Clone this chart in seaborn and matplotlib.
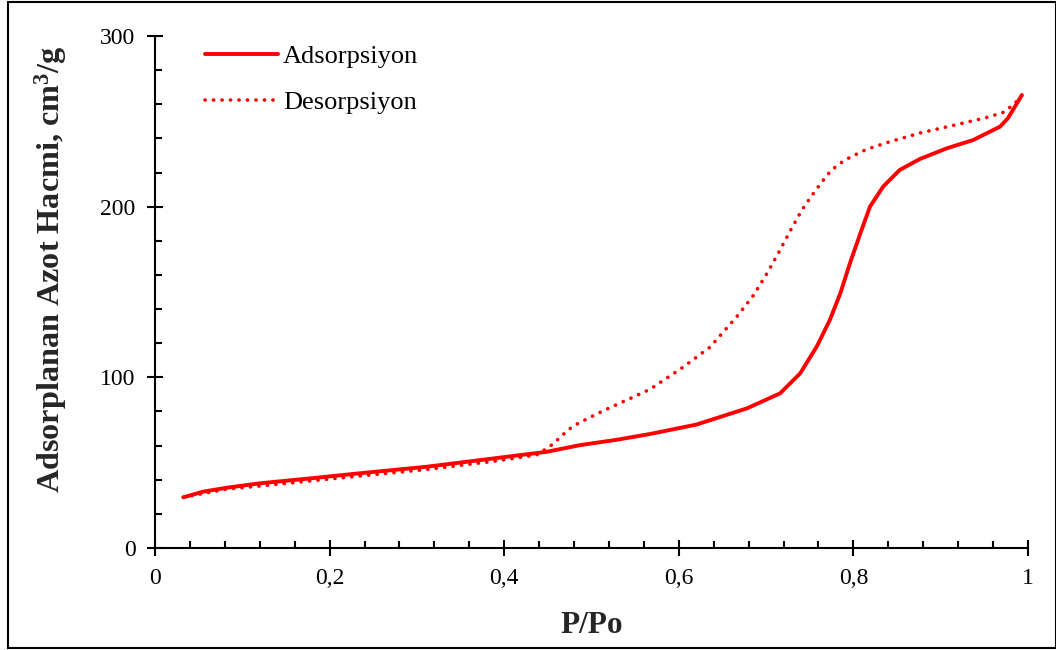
import matplotlib
matplotlib.use("Agg")
import matplotlib.pyplot as plt
from matplotlib.patches import Rectangle
from matplotlib.ticker import MultipleLocator, FuncFormatter
import seaborn as sns
import pandas as pd

# Nitrogen isotherm data (relative pressure vs adsorbed volume)
ads_p = [0.0325, 0.055, 0.082, 0.120, 0.178, 0.235, 0.311, 0.388, 0.449, 0.487,
         0.53, 0.567, 0.62, 0.678, 0.716, 0.739, 0.758, 0.773, 0.785, 0.796,
         0.808, 0.819, 0.834, 0.853, 0.876, 0.907, 0.937, 0.968, 0.977, 0.985,
         0.993]
ads_v = [29.7, 33.0, 35.3, 37.9, 40.8, 43.8, 47.6, 52.5, 56.4, 60.3,
         63.5, 66.8, 72.3, 81.8, 90.6, 102.3, 118.0, 133.6, 149.2, 166.8,
         184.4, 200.0, 211.7, 221.5, 227.9, 234.2, 239.0, 246.9, 251.8, 258.6,
         265.4]

des_p = [0.0325, 0.082, 0.120, 0.178, 0.235, 0.311, 0.388, 0.437, 0.452, 0.46,
         0.473, 0.481, 0.49, 0.513, 0.548, 0.567, 0.605, 0.636, 0.649, 0.668,
         0.685, 0.700, 0.714, 0.727, 0.741, 0.752, 0.764, 0.775, 0.790, 0.815,
         0.842, 0.878, 0.916, 0.953, 0.972, 0.985, 0.993]
des_v = [29.7, 34.5, 36.3, 39.3, 42.2, 46.0, 50.8, 54.5, 59.4, 62.9,
         69.1, 72.0, 74.4, 80.3, 88.5, 93.0, 106.0, 117.8, 125.4, 136.5,
         147.7, 160.0, 172.7, 185.3, 198.0, 206.2, 214.6, 221.5, 227.3, 233.6,
         238.1, 243.4, 247.8, 252.3, 255.3, 260.5, 265.4]

labels = ["Adsorpsiyon", "Desorpsiyon"]
x_label = "P/Po"
y_label = "Adsorplanan Azot Hacmi, cm$^3$/g"

sns.set_style("ticks")
plt.rcParams["font.family"] = ["Liberation Serif", "DejaVu Serif"]
plt.rcParams["mathtext.fontset"] = "custom"
plt.rcParams["mathtext.rm"] = "Liberation Serif:bold"
plt.rcParams["mathtext.it"] = "Liberation Serif:bold"
plt.rcParams["mathtext.bf"] = "Liberation Serif:bold"

fig = plt.figure(figsize=(10.56, 6.5), dpi=100)
ax = fig.add_axes([155 / 1056, 102 / 650, 873 / 1056, 512 / 650])

ads = pd.DataFrame({"p": ads_p, "v": ads_v})
des = pd.DataFrame({"p": des_p, "v": des_v})

sns.lineplot(data=ads, x="p", y="v", ax=ax, color="#ff0000", lw=2.8,
             sort=False, label=labels[0], solid_capstyle="round",
             solid_joinstyle="round")
sns.lineplot(data=des, x="p", y="v", ax=ax, color="#ff0000", lw=2.6,
             sort=False, label=labels[1],
             linestyle=(0, (0.05, 2.3)), dash_capstyle="round")

ax.set_xlim(0, 1)
ax.set_ylim(0, 300)
ax.xaxis.set_major_locator(MultipleLocator(0.2))
ax.xaxis.set_minor_locator(MultipleLocator(0.04))
ax.yaxis.set_major_locator(MultipleLocator(100))
ax.yaxis.set_minor_locator(MultipleLocator(20))
ax.xaxis.set_major_formatter(FuncFormatter(lambda v, _: f"{v:g}".replace(".", ",")))

ax.tick_params(axis="both", which="major", direction="inout", length=11,
               width=1.5, labelsize=17, color="black", labelcolor="black")
ax.tick_params(axis="both", which="minor", direction="in", length=5,
               width=1.5, color="black")
ax.tick_params(axis="x", which="major", pad=9)
ax.tick_params(axis="y", which="major", pad=8.5)

for s in ["top", "right"]:
    ax.spines[s].set_visible(False)
for s in ["left", "bottom"]:
    ax.spines[s].set_linewidth(1.5)
    ax.spines[s].set_color("black")

ax.set_xlabel(x_label, fontsize=22.5, fontweight="bold", labelpad=16)
ax.set_ylabel(y_label, fontsize=23.2, fontweight="bold")
ax.yaxis.set_label_coords(-0.0985, 0.545)

leg = ax.legend(loc="upper left", frameon=False, fontsize=19,
                handlelength=2.77, handletextpad=0.19, labelspacing=0.83,
                bbox_to_anchor=(0.045, 1.003), borderaxespad=0.0)
for t in leg.get_texts():
    t.set_color("black")

# outer frame around the whole figure
fig.patches.append(Rectangle((8 / 1056, 2 / 650), 1 - 8 / 1056, 1 - 4 / 650,
                             transform=fig.transFigure, fill=False,
                             edgecolor="black", lw=1.5))

fig.savefig("out.png", dpi=100)
